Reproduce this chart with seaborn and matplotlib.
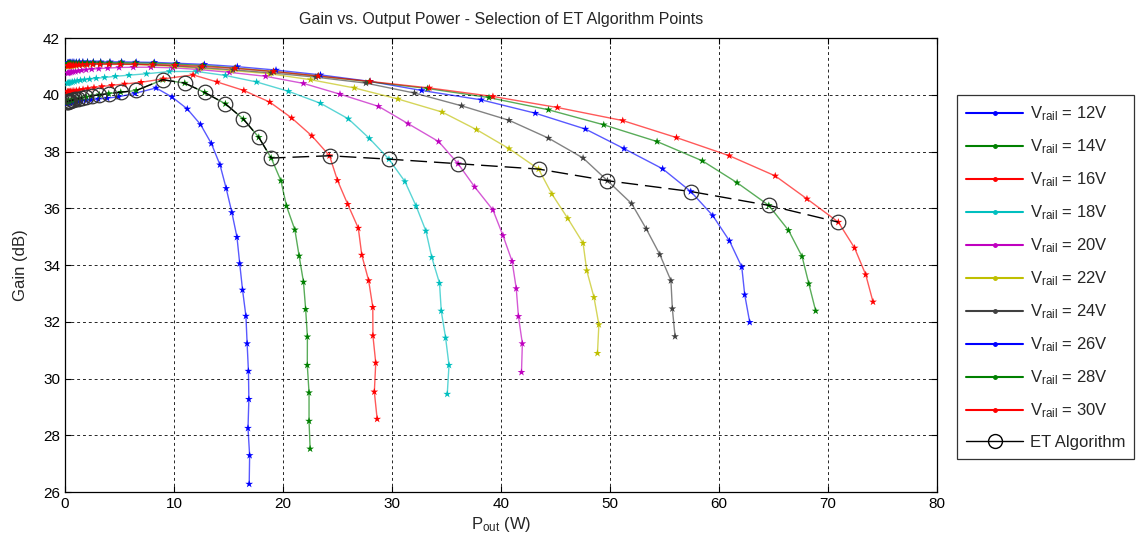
import numpy as np
import pandas as pd
import matplotlib
matplotlib.use('Agg')
import matplotlib.pyplot as plt
import seaborn as sns
from matplotlib.lines import Line2D

sns.set_style('white')
plt.rcParams['font.family'] = ['Liberation Sans', 'DejaVu Sans']
plt.rcParams['mathtext.fontset'] = 'custom'
plt.rcParams['mathtext.rm'] = 'Liberation Sans'
plt.rcParams['mathtext.it'] = 'Liberation Sans'

# ---- data (Pout in W, gain in dB) ----
rails = ['12V', '14V', '16V', '18V', '20V', '22V', '24V', '26V', '28V', '30V']

pout_12 = [0.186, 0.234, 0.296, 0.372, 0.470, 0.593, 0.748, 0.944, 1.191, 1.507, 1.906, 2.409,
           3.055, 3.873, 4.920, 6.428, 8.358, 9.82, 11.22, 12.44, 13.43, 14.22, 14.79, 15.31,
           15.78, 16.03, 16.29, 16.60, 16.71, 16.83, 16.87, 16.79, 16.94, 16.90]
gain_12 = [39.70, 39.70, 39.71, 39.71, 39.72, 39.73, 39.74, 39.75, 39.76, 39.78, 39.80, 39.82,
           39.85, 39.88, 39.93, 40.05, 40.24, 39.92, 39.50, 38.95, 38.28, 37.53, 36.70, 35.85,
           34.98, 34.05, 33.12, 32.20, 31.23, 30.26, 29.27, 28.25, 27.29, 26.28]

pout_14 = [0.188, 0.238, 0.300, 0.378, 0.478, 0.603, 0.762, 0.964, 1.219, 1.545, 1.959, 2.489,
           3.162, 4.018, 5.117, 6.531, 8.974, 10.99, 12.82, 14.72, 16.37, 17.78, 18.92, 19.81,
           20.32, 21.09, 21.48, 21.88, 22.08, 22.24, 22.23, 22.39, 22.39, 22.49]
gain_14 = [39.75, 39.76, 39.77, 39.78, 39.79, 39.80, 39.82, 39.84, 39.86, 39.89, 39.92, 39.96,
           40.00, 40.04, 40.09, 40.15, 40.53, 40.41, 40.08, 39.68, 39.14, 38.50, 37.77, 36.97,
           36.08, 35.24, 34.32, 33.40, 32.44, 31.47, 30.47, 29.50, 28.50, 27.52]

pout_16 = [0.204, 0.257, 0.324, 0.408, 0.515, 0.650, 0.820, 1.035, 1.309, 1.656, 2.099, 2.661,
           3.381, 4.295, 5.470, 6.982, 9.036, 11.75, 13.96, 16.41, 18.79, 20.80, 22.65, 24.27,
           25.00, 25.94, 26.91, 27.23, 27.86, 28.24, 28.25, 28.51, 28.38, 28.64]
gain_16 = [40.10, 40.10, 40.11, 40.11, 40.12, 40.13, 40.14, 40.15, 40.17, 40.19, 40.22, 40.25,
           40.29, 40.33, 40.38, 40.44, 40.56, 40.70, 40.45, 40.15, 39.74, 39.18, 38.55, 37.85,
           36.98, 36.14, 35.30, 34.35, 33.45, 32.51, 31.51, 30.55, 29.53, 28.57]

pout_18 = [0.219, 0.276, 0.348, 0.440, 0.555, 0.700, 0.885, 1.119, 1.416, 1.791, 2.265, 2.871,
           3.639, 4.624, 5.875, 7.482, 9.594, 12.08, 14.72, 17.58, 20.51, 23.44, 26.00, 27.93,
           29.72, 31.19, 32.21, 33.11, 33.65, 34.36, 34.52, 34.92, 35.23, 35.07]
gain_18 = [40.40, 40.41, 40.42, 40.43, 40.44, 40.45, 40.47, 40.49, 40.51, 40.53, 40.55, 40.58,
           40.61, 40.65, 40.69, 40.74, 40.82, 40.82, 40.68, 40.45, 40.12, 39.70, 39.15, 38.46,
           37.73, 36.94, 36.08, 35.20, 34.27, 33.36, 32.38, 31.43, 30.47, 29.45]

pout_20 = [0.238, 0.300, 0.378, 0.478, 0.603, 0.760, 0.959, 1.213, 1.535, 1.941, 2.455, 3.104,
           3.927, 4.966, 6.266, 7.889, 9.885, 12.27, 15.10, 18.41, 21.88, 25.23, 28.77, 31.48,
           34.28, 36.06, 37.59, 39.26, 40.18, 41.02, 41.40, 41.60, 41.96, 41.88]
gain_20 = [40.76, 40.77, 40.78, 40.79, 40.80, 40.81, 40.82, 40.84, 40.86, 40.88, 40.90, 40.92,
           40.94, 40.96, 40.97, 40.97, 40.95, 40.89, 40.79, 40.65, 40.40, 40.02, 39.59, 38.98,
           38.35, 37.57, 36.75, 35.94, 35.04, 34.13, 33.17, 32.19, 31.23, 30.22]

pout_22 = [0.251, 0.316, 0.399, 0.502, 0.634, 0.798, 1.007, 1.271, 1.603, 2.023, 2.553, 3.221,
           4.055, 5.105, 6.412, 8.017, 10.00, 12.39, 15.31, 18.79, 22.54, 26.55, 30.55, 34.60,
           37.76, 40.74, 43.45, 44.67, 46.13, 47.53, 47.87, 48.53, 48.98, 48.85]
gain_22 = [41.00, 41.00, 41.01, 41.01, 41.02, 41.02, 41.03, 41.04, 41.05, 41.06, 41.07, 41.08,
           41.08, 41.08, 41.07, 41.04, 41.00, 40.93, 40.85, 40.74, 40.53, 40.24, 39.85, 39.39,
           38.77, 38.10, 37.38, 36.50, 35.64, 34.77, 33.80, 32.86, 31.90, 30.89]

pout_24 = [0.254, 0.321, 0.404, 0.509, 0.641, 0.809, 1.019, 1.285, 1.618, 2.042, 2.570, 3.236,
           4.074, 5.117, 6.427, 8.054, 10.05, 12.47, 15.42, 18.92, 23.02, 27.61, 32.06, 36.39,
           40.74, 44.36, 47.53, 49.77, 51.99, 53.33, 54.57, 55.59, 55.72, 55.97]
gain_24 = [41.05, 41.06, 41.06, 41.07, 41.07, 41.08, 41.08, 41.09, 41.09, 41.10, 41.10, 41.10,
           41.10, 41.09, 41.08, 41.06, 41.02, 40.96, 40.88, 40.77, 40.62, 40.41, 40.06, 39.61,
           39.10, 38.47, 37.77, 36.97, 36.16, 35.27, 34.37, 33.45, 32.46, 31.48]

pout_26 = [0.259, 0.326, 0.411, 0.518, 0.653, 0.822, 1.035, 1.306, 1.644, 2.070, 2.606, 3.281,
           4.131, 5.200, 6.532, 8.204, 10.26, 12.79, 15.81, 19.36, 23.44, 27.99, 32.73, 38.19,
           43.15, 47.75, 51.29, 54.83, 57.41, 59.43, 60.96, 62.09, 62.36, 62.82]
gain_26 = [41.13, 41.13, 41.14, 41.14, 41.15, 41.15, 41.15, 41.16, 41.16, 41.16, 41.16, 41.16,
           41.16, 41.16, 41.15, 41.14, 41.11, 41.07, 40.99, 40.87, 40.70, 40.47, 40.15, 39.82,
           39.35, 38.79, 38.10, 37.39, 36.59, 35.74, 34.85, 33.93, 32.95, 31.98]

pout_28 = [0.257, 0.324, 0.407, 0.514, 0.647, 0.815, 1.028, 1.294, 1.629, 2.056, 2.588, 3.258,
           4.102, 5.164, 6.486, 8.147, 10.19, 12.68, 15.63, 19.14, 23.23, 27.92, 33.27, 38.90,
           44.36, 49.43, 54.32, 58.48, 61.66, 64.57, 66.38, 67.62, 68.24, 68.87]
gain_28 = [41.10, 41.10, 41.10, 41.11, 41.11, 41.11, 41.12, 41.12, 41.12, 41.13, 41.13, 41.13,
           41.13, 41.13, 41.12, 41.11, 41.08, 41.03, 40.94, 40.82, 40.66, 40.46, 40.22, 39.90,
           39.47, 38.94, 38.35, 37.67, 36.90, 36.10, 35.22, 34.30, 33.34, 32.38]

pout_30 = [0.252, 0.318, 0.401, 0.505, 0.637, 0.802, 1.012, 1.274, 1.607, 2.023, 2.553, 3.214,
           4.046, 5.093, 6.412, 8.054, 10.09, 12.59, 15.60, 19.14, 23.23, 27.99, 33.42, 39.26,
           45.18, 51.17, 56.10, 60.95, 65.16, 68.07, 70.95, 72.44, 73.46, 74.13]
gain_30 = [41.02, 41.02, 41.03, 41.03, 41.04, 41.04, 41.05, 41.05, 41.06, 41.06, 41.07, 41.07,
           41.07, 41.07, 41.07, 41.06, 41.04, 41.00, 40.93, 40.82, 40.66, 40.47, 40.24, 39.94,
           39.55, 39.09, 38.49, 37.85, 37.14, 36.33, 35.51, 34.60, 33.66, 32.70]

et_pout = [0.188, 0.238, 0.300, 0.378, 0.478, 0.603, 0.762, 0.964, 1.219, 1.545, 1.959, 2.489,
           3.162, 4.018, 5.117, 6.531, 8.974, 10.99, 12.82, 14.72, 16.37, 17.78, 18.92,
           24.27, 29.72, 36.06, 43.45, 49.77, 57.41, 64.57, 70.95]
et_gain = [39.75, 39.76, 39.77, 39.78, 39.79, 39.80, 39.82, 39.84, 39.86, 39.89, 39.92, 39.96,
           40.00, 40.04, 40.09, 40.15, 40.53, 40.41, 40.08, 39.68, 39.14, 38.50, 37.77,
           37.85, 37.73, 37.57, 37.38, 36.97, 36.59, 36.10, 35.51]

pouts = [pout_12, pout_14, pout_16, pout_18, pout_20, pout_22, pout_24, pout_26, pout_28, pout_30]
gains = [gain_12, gain_14, gain_16, gain_18, gain_20, gain_22, gain_24, gain_26, gain_28, gain_30]

# matlab-ish line colours, cycling after 7
base_cols = ['#0000ff', '#008000', '#ff0000', '#00bfbf', '#bf00bf', '#bfbf00', '#404040']
colors = [base_cols[i % 7] for i in range(10)]

#long table for seaborn
frames = []
for r, x, y in zip(rails, pouts, gains):
    frames.append(pd.DataFrame({'Pout': x, 'Gain': y, 'rail': r}))
df = pd.concat(frames, ignore_index=True)
pal = dict(zip(rails, colors))

fig = plt.figure(figsize=(11.42, 5.46), dpi=100)
ax = fig.add_axes([0.0569, 0.0989, 0.7636, 0.8315])

sns.lineplot(data=df, x='Pout', y='Gain', hue='rail', units='rail', estimator=None,
             sort=False, palette=pal, lw=1.0, alpha=0.65, legend=False, ax=ax)
sns.scatterplot(data=df, x='Pout', y='Gain', hue='rail', palette=pal, marker='*',
                s=34, linewidth=0, legend=False, ax=ax, zorder=3)

et = pd.DataFrame({'Pout': et_pout, 'Gain': et_gain})
sns.lineplot(data=et, x='Pout', y='Gain', sort=False, estimator=None, color='black',
             lw=1.0, ax=ax, zorder=4)
ax.lines[-1].set_dashes((12, 5))
ax.plot(et['Pout'], et['Gain'], ls='none', marker='o', ms=10.5, mfc='none',
        mec='#333333', mew=0.9, zorder=5)

ax.set_xlim(0, 80)
ax.set_ylim(26, 42)
ax.set_xticks(np.arange(0, 81, 10))
ax.set_yticks(np.arange(26, 43, 2))
ax.tick_params(direction='in', length=4, labelsize=11, top=True, right=True,
               bottom=True, left=True, colors='black')
ax.grid(True, color='black', lw=0.7, ls=(0, (3, 3)), alpha=0.85)
for s in ax.spines.values():
    s.set_color('black')
    s.set_linewidth(0.9)

ax.set_xlabel(r'P$_{\mathrm{out}}$ (W)', fontsize=12, labelpad=3)
ax.set_ylabel('Gain (dB)', fontsize=12, labelpad=11)
ax.set_title('Gain vs. Output Power - Selection of ET Algorithm Points', fontsize=11.5, pad=10)

handles = [Line2D([], [], color=c, lw=1.5, marker='.', ms=5) for c in colors]
labels = [r'V$_{\mathrm{rail}}$ = ' + r for r in rails]
handles.append(Line2D([], [], color='black', lw=1.0, marker='o', ms=10,
                      mfc='none', mec='black'))
labels.append('ET Algorithm')
leg = ax.legend(handles, labels, loc='upper left', bbox_to_anchor=(1.023, 0.874),
                borderaxespad=0, fontsize=12, frameon=True, fancybox=False,
                edgecolor='black', labelspacing=0.86, handlelength=3.4,
                handletextpad=0.4, borderpad=0.55)
leg.get_frame().set_linewidth(0.9)

plt.savefig('out.png', dpi=100)
